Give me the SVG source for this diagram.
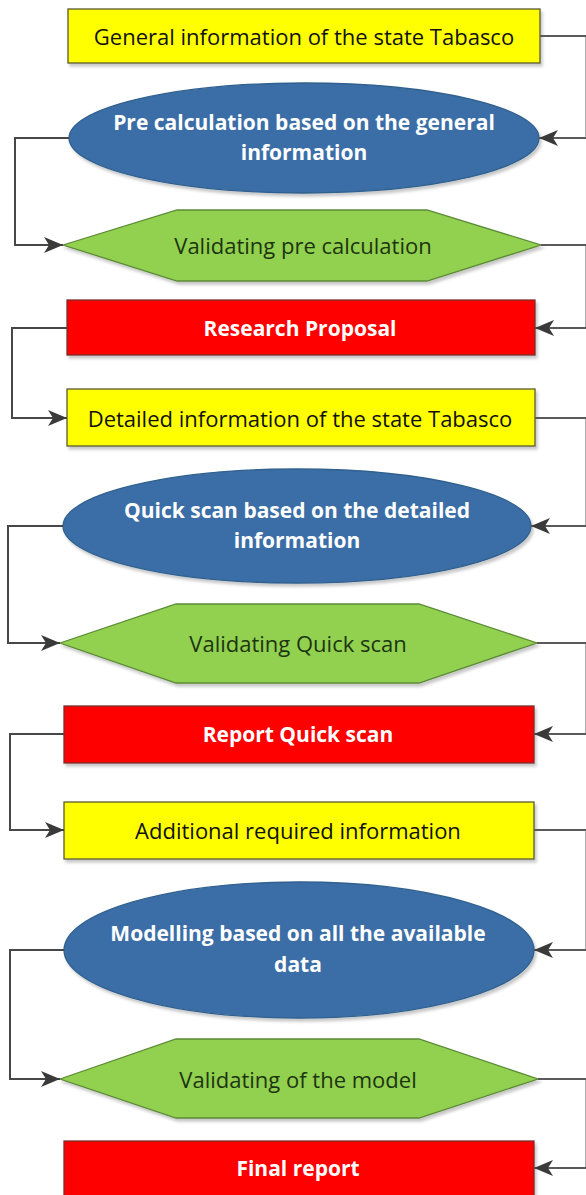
<svg xmlns="http://www.w3.org/2000/svg" width="586" height="1195" viewBox="0 0 586 1195">
<defs>
<marker id="arr" markerUnits="userSpaceOnUse" viewBox="0 0 20 16" markerWidth="20" markerHeight="16" refX="19" refY="8" orient="auto">
<path d="M0,0 L19,8 L0,16 L5,8 Z" fill="#3a3a3a"/>
</marker>
<filter id="sh" x="-10%" y="-20%" width="125%" height="150%">
<feDropShadow dx="2" dy="3" stdDeviation="1.5" flood-color="#000" flood-opacity="0.22"/>
</filter>
</defs>
<style>
.y{fill:#ffff00;stroke:#5a5a32;stroke-width:1.3}
.r{fill:#ff0000;stroke:#7a3030;stroke-width:1.3}
.b{fill:#3b6ea6;stroke:#30608f;stroke-width:1.3}
.g{fill:#92d050;stroke:#5b8a35;stroke-width:1.3}
.sh{filter:url(#sh)}
text{font-family:"Open Sans","Liberation Sans",sans-serif;font-size:22px;text-anchor:middle;dominant-baseline:central}
.tb{fill:#111}
.tg{fill:#1c3510}
.tw{fill:#ffffff;font-weight:bold;font-size:21px}
.c{fill:none;stroke:#474747;stroke-width:2}
.cr{fill:none;stroke:#5a5a5a;stroke-width:2}
</style>
<rect width="586" height="1195" fill="#fff"/>

<g id="n1"><rect class="y sh" x="68" y="9" width="472" height="54"/><text class="tb" x="304" y="36">General information of the state Tabasco</text></g>
<g id="n2"><ellipse class="b sh" cx="304" cy="138" rx="235" ry="55"/><text class="tw" x="304" y="122">Pre calculation based on the general</text><text class="tw" x="304" y="152">information</text></g>
<g id="n3"><polygon class="g sh" points="63,245 177,210 427,210 541,245 427,281 177,281"/><text class="tg" x="303" y="245">Validating pre calculation</text></g>
<g id="n4"><rect class="r sh" x="67" y="300" width="468" height="55"/><text class="tw" x="300" y="328">Research Proposal</text></g>
<g id="n5"><rect class="y sh" x="67" y="389" width="468" height="57"/><text class="tb" x="300" y="418">Detailed information of the state Tabasco</text></g>
<g id="n6"><ellipse class="b sh" cx="297" cy="526" rx="234" ry="57"/><text class="tw" x="297" y="510">Quick scan based on the detailed</text><text class="tw" x="297" y="540">information</text></g>
<g id="n7"><polygon class="g sh" points="60,643 176,604 419,604 537,643 419,683 176,683"/><text class="tg" x="298" y="643">Validating Quick scan</text></g>
<g id="n8"><rect class="r sh" x="64" y="706" width="470" height="57"/><text class="tw" x="298" y="734">Report Quick scan</text></g>
<g id="n9"><rect class="y sh" x="64" y="802" width="470" height="57"/><text class="tb" x="298" y="830">Additional required information</text></g>
<g id="n10"><ellipse class="b sh" cx="299" cy="950" rx="235" ry="68"/><text class="tw" x="298" y="933">Modelling based on all the available</text><text class="tw" x="298" y="964">data</text></g>
<g id="n11"><polygon class="g sh" points="60,1079 176,1039 419,1039 538,1079 419,1118 176,1118"/><text class="tg" x="298" y="1079">Validating of the model</text></g>
<g id="n12"><rect class="r sh" x="64" y="1141" width="470" height="70"/><text class="tw" x="298" y="1168">Final report</text></g>

<g id="connectors">
<path class="c" d="M69,138 H15 V245 H63" marker-end="url(#arr)"/>
<path class="c" d="M67,328 H12 V418 H67" marker-end="url(#arr)"/>
<path class="c" d="M63,526 H8 V643 H60" marker-end="url(#arr)"/>
<path class="c" d="M64,734 H10 V830 H64" marker-end="url(#arr)"/>
<path class="c" d="M64,950 H10 V1079 H60" marker-end="url(#arr)"/>
<path class="cr" d="M540,36 H586.5 V138 H539" marker-end="url(#arr)"/>
<path class="cr" d="M541,245 H586.5 V328 H535" marker-end="url(#arr)"/>
<path class="cr" d="M535,418 H586.5 V526 H531" marker-end="url(#arr)"/>
<path class="cr" d="M537,643 H586.5 V734 H534" marker-end="url(#arr)"/>
<path class="cr" d="M534,830 H586.5 V950 H534" marker-end="url(#arr)"/>
<path class="cr" d="M538,1079 H586.5 V1168 H534" marker-end="url(#arr)"/>
</g>
</svg>
